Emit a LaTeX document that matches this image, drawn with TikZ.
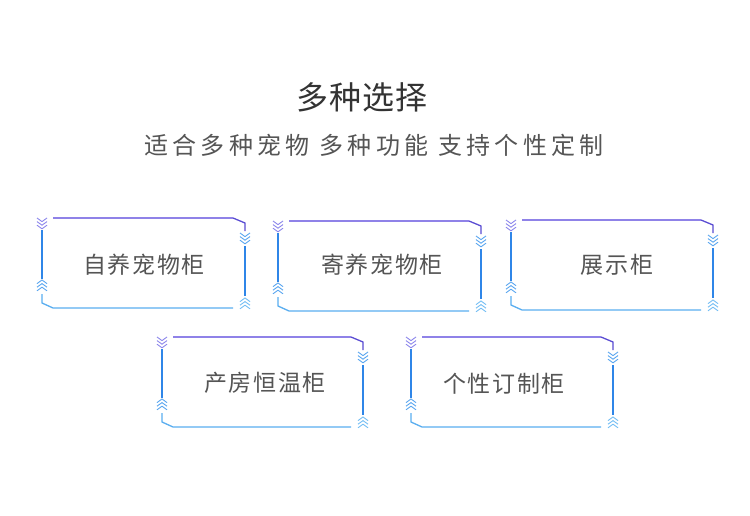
\documentclass[tikz,border=0pt]{standalone}
\usepackage{fontspec}
\setmainfont{Noto Sans CJK SC}
\newfontfamily\cjk{Noto Sans CJK SC}
\begin{document}
\begin{tikzpicture}[x=1pt,y=-1pt,
  toppurple/.style={draw=linepurple,line width=1.3pt},
  edgeblue/.style={draw=lineblue,line width=1.3pt},
  edgelight/.style={draw=linelight,line width=1.3pt},
  chev/.style={line width=0.9pt},
  boxlabel/.style={font=\cjk\fontsize{23}{25}\selectfont\addfontfeature{LetterSpace=7},text=labelgray,inner sep=0pt},
  pics/chevdown/.style={code={\foreach \i in {0,1,2}{\draw[chev,#1] (-5,\i*3.6) -- (0,\i*3.6+3.6) -- (5,\i*3.6);}}},
  pics/chevup/.style={code={\foreach \i in {0,1,2}{\draw[chev,#1] (-5,\i*3.6+3.6) -- (0,\i*3.6) -- (5,\i*3.6+3.6);}}}
]
\definecolor{linepurple}{HTML}{8F82E8}
\definecolor{linedark}{HTML}{5A4CD2}
\definecolor{lineblue}{HTML}{2F86E8}
\definecolor{linelight}{HTML}{5AAEF0}
\definecolor{chevpurple}{HTML}{8C86EC}
\definecolor{chevblue}{HTML}{5AA6F0}
\definecolor{chevlight}{HTML}{74BEF4}
\definecolor{labelgray}{HTML}{555555}
\definecolor{titlegray}{HTML}{333333}
\useasboundingbox[fill=white] (0,0) rectangle (750,516);

\newcommand\petframe[4]{% L R T B
  \draw[toppurple] (#1+11,#3) -- (#2-12,#3);
  \draw[draw=linedark,line width=1.3pt] (#2-12,#3) -- (#2,#3+5) -- (#2,#3+13);
  \pic at (#1,#3) {chevdown=chevpurple};
  \pic at (#2,#3+15) {chevdown=chevblue};
  \draw[edgeblue] (#2,#3+28) -- (#2,#4-12);
  \pic at (#2,#4-10) {chevup=chevlight};
  \draw[edgeblue] (#1,#3+12) -- (#1,#4-29);
  \pic at (#1,#4-28) {chevup=chevblue};
  \draw[edgelight] (#1,#4-14) -- (#1,#4-5) -- (#1+11,#4) -- (#2-12,#4);
}

\node[font=\cjk\fontsize{32}{35}\selectfont\addfontfeature{LetterSpace=3},text=titlegray,inner sep=0pt] (title) at (362,97) {多种选择};
\node[font=\cjk\fontsize{24}{27}\selectfont\addfontfeature{LetterSpace=18},text=labelgray,inner sep=0pt] (subtitle) at (374,145) {适合多种宠物 多种功能 支持个性定制};

\petframe{42}{245}{218}{308}
\node[boxlabel] (b1) at (144,265) {自养宠物柜};
\petframe{278}{481}{221}{311}
\node[boxlabel] (b2) at (382,265) {寄养宠物柜};
\petframe{511}{713}{220}{310}
\node[boxlabel] (b3) at (617,265) {展示柜};
\petframe{162}{363}{337}{427}
\node[boxlabel] (b4) at (265,383) {产房恒温柜};
\petframe{411}{613}{337}{427}
\node[boxlabel] (b5) at (504,384) {个性订制柜};
\end{tikzpicture}
\end{document}
